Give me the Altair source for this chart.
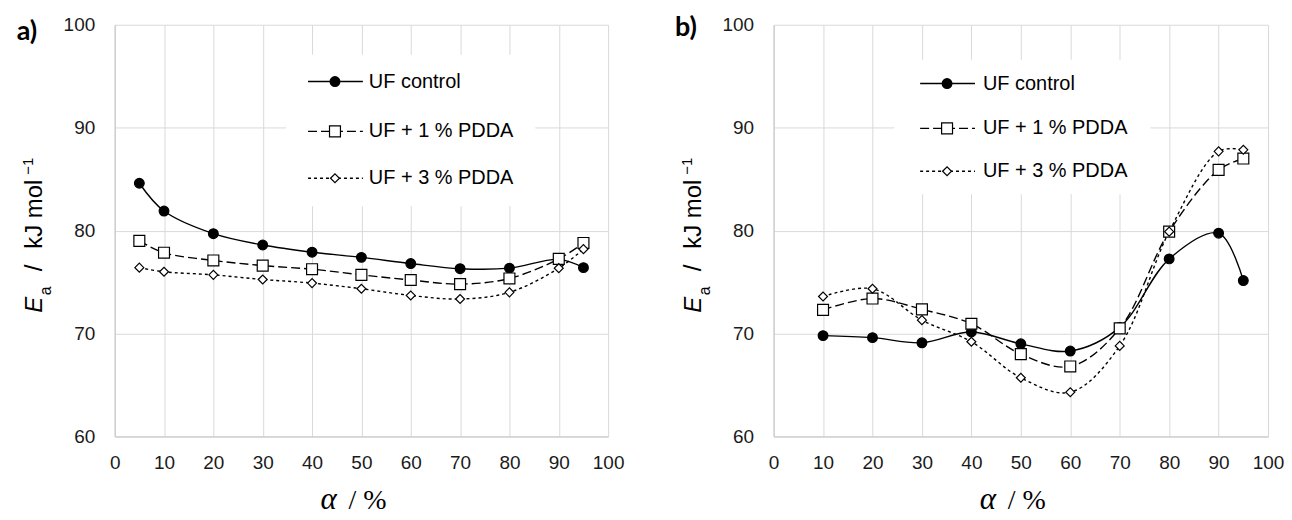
import altair as alt
import pandas as pd

# ---- data ----
alpha_a = [5, 10, 20, 30, 40, 50, 60, 70, 80, 90, 95]
a_control = [84.6, 81.9, 79.7, 78.6, 77.9, 77.4, 76.8, 76.3, 76.35, 77.2, 76.4]
a_pdda1 = [79.0, 77.85, 77.1, 76.6, 76.25, 75.7, 75.2, 74.8, 75.35, 77.25, 78.8]
a_pdda3 = [76.4, 76.0, 75.7, 75.25, 74.9, 74.35, 73.7, 73.35, 74.0, 76.35, 78.2]

alpha_b = [10, 20, 30, 40, 50, 60, 70, 80, 90, 95]
b_control = [69.8, 69.6, 69.1, 70.15, 69.0, 68.3, 70.6, 77.25, 79.75, 75.15]
b_pdda1 = [72.3, 73.4, 72.35, 70.95, 68.0, 66.8, 70.5, 79.9, 85.9, 87.0]
b_pdda3 = [73.6, 74.35, 71.3, 69.2, 65.7, 64.3, 68.8, 79.9, 87.7, 87.85]

series_names = ["UF control", "UF + 1 % PDDA", "UF + 3 % PDDA"]
x_ticks = [0, 10, 20, 30, 40, 50, 60, 70, 80, 90, 100]
y_ticks = [60, 70, 80, 90, 100]
panel_tags = ["a)", "b)"]

# ---- styles ----
STYLES = {
    "UF control": dict(dash=None, shape="circle", fill="black", size=95),
    "UF + 1 % PDDA": dict(dash=[9, 4], shape="square", fill="white", size=120),
    "UF + 3 % PDDA": dict(dash=[3, 3], shape="diamond", fill="white", size=80),
}
TXT = "Liberation Sans"
ONE = pd.DataFrame({"k": [0]})


def make_panel(alpha, series_vals, tag, width, height, leg, tag_y):
    frames = []
    for name, vals in zip(series_names, series_vals):
        frames.append(pd.DataFrame({"alpha": alpha, "Ea": vals, "series": name}))
    df = pd.concat(frames, ignore_index=True)

    xs = alt.X("alpha:Q", scale=alt.Scale(domain=[0, 100], nice=False),
               axis=alt.Axis(values=x_ticks, title=None, format="d"))
    ys = alt.Y("Ea:Q", scale=alt.Scale(domain=[60, 100], nice=False, zero=False),
               axis=alt.Axis(values=y_ticks, title=None, format="d"))

    layers = []
    for name in series_names:
        st = STYLES[name]
        sub = df[df.series == name]
        lkw = dict(color="black", strokeWidth=1.4, interpolate="catmull-rom")
        if st["dash"]:
            lkw["strokeDash"] = st["dash"]
        layers.append(alt.Chart(sub).mark_line(**lkw).encode(x=xs, y=ys))
    for name in series_names:
        st = STYLES[name]
        sub = df[df.series == name]
        layers.append(alt.Chart(sub).mark_point(
            shape=st["shape"], filled=True, fill=st["fill"], stroke="black",
            strokeWidth=1.2, size=st["size"], opacity=1).encode(x=xs, y=ys))

    # legend box and entries
    bx0, bx1, by0, by1, rows, lx0, lx1, mx, tx = leg
    layers.append(alt.Chart(ONE).mark_rect(fill="white").encode(
        x=alt.value(bx0), x2=alt.value(bx1), y=alt.value(by0), y2=alt.value(by1)))
    for name, ry in zip(series_names, rows):
        st = STYLES[name]
        rkw = dict(color="black", strokeWidth=1.4)
        if st["dash"]:
            rkw["strokeDash"] = st["dash"]
        layers.append(alt.Chart(ONE).mark_rule(**rkw).encode(
            x=alt.value(lx0), x2=alt.value(lx1), y=alt.value(ry)))
        layers.append(alt.Chart(ONE).mark_point(
            shape=st["shape"], filled=True, fill=st["fill"], stroke="black",
            strokeWidth=1.2, size=st["size"], opacity=1).encode(
            x=alt.value(mx), y=alt.value(ry)))
        layers.append(alt.Chart(ONE).mark_text(
            align="left", baseline="middle", font=TXT, fontSize=20, color="black").encode(
            x=alt.value(tx), y=alt.value(ry), text=alt.value(name)))

    # panel tag
    layers.append(alt.Chart(ONE).mark_text(
        align="center", baseline="middle", font="Lato", fontSize=27,
        fontWeight="bold", color="black").encode(
        x=alt.value(-88), y=alt.value(tag_y), text=alt.value(tag)))

    # y-axis title pieces (rotated)
    ytitle = [
        ("E", -73, 281, 24, "italic"),
        ("a", -64, 267, 16, "normal"),
        ("/", -73, 244, 24, "normal"),
        ("kJ mol", -73, 190, 24, "normal"),
        ("\u22121", -82, 142, 15, "normal"),
    ]
    for t, px, py, fs, fst in ytitle:
        layers.append(alt.Chart(ONE).mark_text(
            align="center", baseline="alphabetic", angle=270, font=TXT,
            fontSize=fs, fontStyle=fst, color="black").encode(
            x=alt.value(px), y=alt.value(py), text=alt.value(t)))

    # x-axis title pieces
    cx = width / 2
    layers.append(alt.Chart(ONE).mark_text(
        align="center", baseline="alphabetic", font="Liberation Serif",
        fontSize=31, fontStyle="italic", color="black").encode(
        x=alt.value(cx - 33), y=alt.value(486), text=alt.value("\u03b1")))
    layers.append(alt.Chart(ONE).mark_text(
        align="left", baseline="alphabetic", font="Liberation Serif",
        fontSize=28, color="black").encode(
        x=alt.value(cx - 13), y=alt.value(486), text=alt.value("/ %")))

    return alt.layer(*layers).properties(width=width, height=height)


pa = make_panel(alpha_a, [a_control, a_pdda1, a_pdda3], panel_tags[0], 495, 413,
                (172, 422, 30, 182, [57, 107, 154], 194, 249, 221, 255), 7)
pb = make_panel(alpha_b, [b_control, b_pdda1, b_pdda3], panel_tags[1], 496, 413,
                (121, 378, 35, 170, [59, 104, 147], 147, 202, 174, 210), 3)

chart = alt.hconcat(pa, pb, spacing=51).properties(
    padding={"left": 8, "top": 5, "right": 0, "bottom": 0}
).configure_view(stroke=None).configure_axis(
    grid=True, gridColor="#d9d9d9", gridWidth=1,
    domainColor="#c4c4c4", domainWidth=1,
    ticks=False, tickSize=0,
    labelFont=TXT, labelFontSize=19, labelColor="#1a1a1a",
    labelFlush=False, labelOverlap=False,
).configure_axisX(labelPadding=17).configure_axisY(labelPadding=20)

chart.save("out.html", embed_options={"renderer": "svg", "actions": False})
